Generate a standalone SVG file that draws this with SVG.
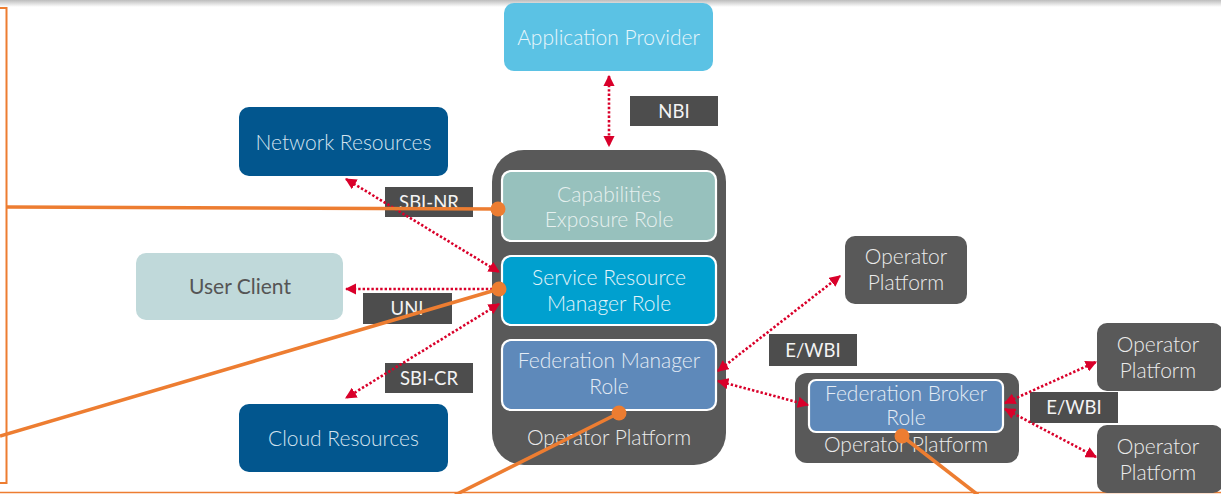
<svg xmlns="http://www.w3.org/2000/svg" width="1221" height="494" viewBox="0 0 1221 494">
  <style>
    .lbl { font-family: Lato, "Open Sans", "Liberation Sans", sans-serif; font-weight: 300; font-size: 21px; text-anchor: middle; }
    .tag { fill: #4d4d4d; }
    .tagt { font-family: Lato, "Liberation Sans", sans-serif; font-weight: 400; font-size: 18.5px; fill: #f4f4f4; text-anchor: middle; }
    .link { fill: none; stroke: #d9002a; stroke-width: 2.6; stroke-dasharray: 2.4 2; }
    .wire { fill: none; stroke: #ed7d31; stroke-width: 3.5; }
    .dot { fill: #ed7d31; }
    .role { stroke: #ffffff; stroke-width: 2.2; }
  </style>
  <defs>
    <linearGradient id="topShade" x1="0" y1="0" x2="0" y2="1">
      <stop offset="0" stop-color="#bdbdbd"/>
      <stop offset="1" stop-color="#ffffff"/>
    </linearGradient>
    <marker id="ah" viewBox="0 0 10 10" refX="9" refY="5" markerWidth="4.4" markerHeight="4.4" orient="auto-start-reverse" markerUnits="strokeWidth">
      <path d="M0,0 L10,5 L0,10 z" fill="#d9002a"/>
    </marker>
  </defs>

  <rect x="0" y="0" width="1221" height="494" fill="#ffffff"/>
  <rect x="0" y="0" width="1221" height="7" fill="url(#topShade)"/>

  <!-- frame lines -->
  <path d="M0,8 H6.5 V483 H0" fill="none" stroke="#ed7d31" stroke-width="2"/>
  <line x1="0" y1="492.5" x2="1221" y2="492.5" stroke="#ed7d31" stroke-width="1.6"/>

  <g id="application-provider">
    <rect x="504" y="3" width="209" height="68" rx="10" fill="#5bc2e4"/>
    <text class="lbl" x="608.5" y="45" fill="#e8f6fb">Application Provider</text>
  </g>

  <g id="network-resources">
    <rect x="239" y="107" width="209" height="69" rx="10" fill="#02568e"/>
    <text class="lbl" x="343.5" y="150" fill="#d4e3ee">Network Resources</text>
  </g>

  <g id="user-client">
    <rect x="136" y="253" width="207" height="67" rx="10" fill="#c0d9da"/>
    <text class="lbl" x="240" y="294" fill="#555555" style="font-weight:400">User Client</text>
  </g>

  <g id="cloud-resources">
    <rect x="239" y="404" width="209" height="68" rx="10" fill="#02568e"/>
    <text class="lbl" x="343.5" y="446" fill="#d4e3ee">Cloud Resources</text>
  </g>

  <g id="operator-platform-main">
    <rect x="492" y="150" width="234" height="315" rx="32" fill="#595959"/>
    <text class="lbl" x="609" y="445" fill="#ececec">Operator Platform</text>
  </g>

  <g id="capabilities-exposure-role">
    <rect class="role" x="502" y="171" width="214" height="70" rx="9" fill="#97c1bd"/>
    <text class="lbl" x="609" y="202" fill="#e6f0ef">Capabilities</text>
    <text class="lbl" x="609" y="227" fill="#e6f0ef">Exposure Role</text>
  </g>

  <g id="service-resource-manager-role">
    <rect class="role" x="502" y="256" width="214" height="69" rx="9" fill="#00a0cf"/>
    <text class="lbl" x="609" y="285" fill="#e3f4fa">Service Resource</text>
    <text class="lbl" x="609" y="311" fill="#e3f4fa">Manager Role</text>
  </g>

  <g id="federation-manager-role">
    <rect class="role" x="502" y="340" width="214" height="70" rx="9" fill="#5e89ba"/>
    <text class="lbl" x="609" y="368" fill="#e4ecf5">Federation Manager</text>
    <text class="lbl" x="609" y="394" fill="#e4ecf5">Role</text>
  </g>

  <g id="operator-platform-broker">
    <rect x="795" y="373" width="224" height="90" rx="12" fill="#595959"/>
    <rect class="role" x="809" y="380" width="194" height="52" rx="7" fill="#5e89ba"/>
    <text class="lbl" x="906" y="401" fill="#e4ecf5">Federation Broker</text>
    <text class="lbl" x="906" y="425" fill="#e4ecf5">Role</text>
    <text class="lbl" x="906" y="452" fill="#ececec">Operator Platform</text>
  </g>

  <g id="operator-platform-a">
    <rect x="845" y="236" width="122" height="68" rx="10" fill="#595959"/>
    <text class="lbl" x="906" y="264" fill="#ececec">Operator</text>
    <text class="lbl" x="906" y="290" fill="#ececec">Platform</text>
  </g>

  <g id="operator-platform-b">
    <rect x="1097" y="323" width="126" height="68" rx="10" fill="#595959"/>
    <text class="lbl" x="1158" y="352" fill="#ececec">Operator</text>
    <text class="lbl" x="1158" y="378" fill="#ececec">Platform</text>
  </g>

  <g id="operator-platform-c">
    <rect x="1097" y="425" width="126" height="68" rx="10" fill="#595959"/>
    <text class="lbl" x="1158" y="454" fill="#ececec">Operator</text>
    <text class="lbl" x="1158" y="480" fill="#ececec">Platform</text>
  </g>

  <g id="interface-tags">
    <rect class="tag" x="630" y="96" width="88" height="30"/>
    <text class="tagt" x="674" y="118">NBI</text>
    <rect class="tag" x="385" y="187" width="88" height="30"/>
    <text class="tagt" x="429" y="209">SBI-NR</text>
    <rect class="tag" x="363" y="293" width="89" height="31"/>
    <text class="tagt" x="407" y="315">UNI</text>
    <rect class="tag" x="385" y="363" width="88" height="30"/>
    <text class="tagt" x="429" y="385">SBI-CR</text>
    <rect class="tag" x="769" y="334" width="88" height="32"/>
    <text class="tagt" x="813" y="357">E/WBI</text>
    <rect class="tag" x="1030" y="392" width="88" height="31"/>
    <text class="tagt" x="1074" y="414">E/WBI</text>
  </g>

  <g id="connectors">
    <line class="link" x1="609" y1="76" x2="609" y2="146" marker-start="url(#ah)" marker-end="url(#ah)"/>
    <line class="link" x1="346" y1="179" x2="499" y2="272" marker-start="url(#ah)" marker-end="url(#ah)"/>
    <line class="link" x1="497" y1="289" x2="346" y2="289" marker-end="url(#ah)"/>
    <line class="link" x1="499" y1="304" x2="346" y2="398" marker-start="url(#ah)" marker-end="url(#ah)"/>
    <line class="link" x1="718" y1="371" x2="840" y2="276" marker-start="url(#ah)" marker-end="url(#ah)"/>
    <line class="link" x1="718" y1="381" x2="808" y2="405" marker-start="url(#ah)" marker-end="url(#ah)"/>
    <line class="link" x1="1005" y1="403" x2="1096" y2="362" marker-start="url(#ah)" marker-end="url(#ah)"/>
    <line class="link" x1="1005" y1="409" x2="1096" y2="457" marker-start="url(#ah)" marker-end="url(#ah)"/>
  </g>

  <g id="callout-wires">
    <line class="wire" x1="6.5" y1="207" x2="498" y2="209"/>
    <line class="wire" x1="0" y1="436" x2="499" y2="289"/>
    <line class="wire" x1="619" y1="413" x2="455" y2="495"/>
    <line class="wire" x1="902" y1="436" x2="978" y2="495"/>
    <circle class="dot" cx="498" cy="209" r="7.5"/>
    <circle class="dot" cx="499" cy="289" r="7.5"/>
    <circle class="dot" cx="619" cy="413" r="7.5"/>
    <circle class="dot" cx="902" cy="436" r="7.5"/>
  </g>
</svg>
